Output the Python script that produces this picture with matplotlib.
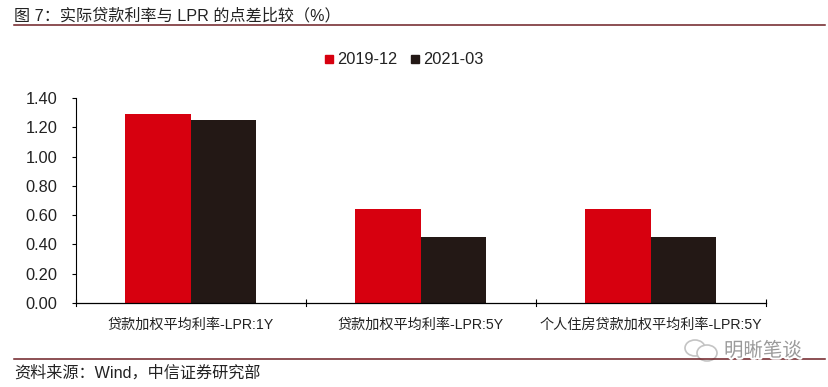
import matplotlib
matplotlib.use("Agg")
import matplotlib.pyplot as plt
import matplotlib.patheffects as pe
from matplotlib.lines import Line2D
from matplotlib.patches import Ellipse
import numpy as np

plt.rcParams['font.family'] = ['Liberation Sans', 'Noto Sans CJK SC', 'DejaVu Sans']

categories = ["贷款加权平均利率-LPR:1Y", "贷款加权平均利率-LPR:5Y", "个人住房贷款加权平均利率-LPR:5Y"]
series_names = ["2019-12", "2021-03"]
vals_2019 = [1.29, 0.64, 0.64]
vals_2021 = [1.25, 0.45, 0.45]
yticks = [0, 0.2, 0.4, 0.6, 0.8, 1.0, 1.2, 1.4]

W, H = 829, 387
RED = "#d7000f"
BLACK = "#231815"
RULE = "#6e1f24"
TEXT = "#222222"

fig = plt.figure(figsize=(W / 100, H / 100), dpi=100)

# chart area in pixels: x 75.5-765.5, y 98-303
ax = fig.add_axes([75.5 / W, 1 - 303 / H, 690 / W, 205 / H])
x = np.arange(len(categories))
bw = 0.2857
ax.bar(x - bw / 2, vals_2019, bw, color=RED, label=series_names[0])
ax.bar(x + bw / 2, vals_2021, bw, color=BLACK, label=series_names[1])

ax.set_xlim(-0.5, 2.5)
ax.set_ylim(0, 1.4)
ax.set_yticks(yticks)
ax.set_yticklabels(["%.2f" % t for t in yticks], fontsize=11.8, color=TEXT)
ax.set_xticks([-0.5, 0.5, 1.5, 2.5])
ax.set_xticklabels([])
ax.set_xticks(x, minor=True)
ax.set_xticklabels(categories, minor=True, fontsize=10.2, color=TEXT)
ax.tick_params(axis='x', which='minor', length=0, pad=11)
ax.tick_params(axis='x', which='major', direction='in', length=3, width=0.8)
ax.tick_params(axis='y', length=3, width=0.8, pad=10)
ax.spines['top'].set_visible(False)
ax.spines['right'].set_visible(False)
ax.spines['left'].set_linewidth(0.8)
ax.spines['bottom'].set_linewidth(0.9)

# x ticks sit above and below the axis line
for tx in ax.get_xticks():
    ax.plot([tx, tx], [0, -0.02], color="black", lw=0.8, clip_on=False)

# legend
handles = [
    Line2D([], [], marker='s', ls='', color=RED, markersize=5.5),
    Line2D([], [], marker='s', ls='', color=BLACK, markersize=5.5),
]
fig.legend(handles, series_names, loc='center', bbox_to_anchor=(404 / W, 1 - 60 / H),
           ncol=2, frameon=False, fontsize=11.8, handlelength=0.6, handletextpad=0.2,
           columnspacing=0.8, labelcolor=TEXT)

# title and rules
fig.text(14 / W, 1 - 15.5 / H, "图 7：实际贷款利率与 LPR 的点差比较（%）", fontsize=11.6,
         color=TEXT, va='center', ha='left')
fig.add_artist(Line2D([14 / W, 825 / W], [1 - 24.5 / H] * 2, color=RULE, lw=1.1))
fig.add_artist(Line2D([14 / W, 825 / W], [1 - 358.5 / H] * 2, color=RULE, lw=1.1))
fig.text(14 / W, 1 - 373 / H, "资料来源：Wind，中信证券研究部", fontsize=11.6,
         color=TEXT, va='center', ha='left')

# watermark
halo = [pe.withStroke(linewidth=3, foreground="white")]
fig.text(724 / W, 1 - 351 / H, "明晰笔谈", fontsize=14, color="#9a9a9a", va='center',
         ha='left', path_effects=halo)
overlay = fig.add_axes([0, 0, 1, 1], facecolor='none')
overlay.set_xlim(0, W)
overlay.set_ylim(H, 0)
overlay.axis('off')
overlay.add_patch(Ellipse((695, 348), 20, 16, fc='white', ec='#c4c4c4', lw=1.2))
overlay.add_patch(Ellipse((707, 353), 20, 16, fc='white', ec='#c4c4c4', lw=1.2))

fig.savefig("out.png", dpi=100)
